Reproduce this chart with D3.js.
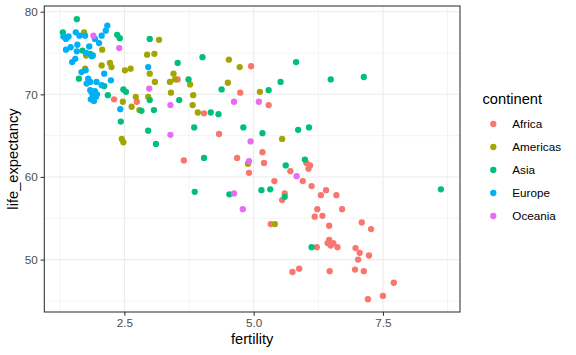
<!DOCTYPE html>
<html>
<head>
<meta charset="utf-8">
<script src="https://cdn.jsdelivr.net/npm/d3@7"></script>
<style>
  html, body { margin: 0; padding: 0; background: #fff; }
  svg { display: block; font-family: "Liberation Sans", Arial, Helvetica, sans-serif; }
</style>
</head>
<body>
<svg id="chart" width="576" height="355"></svg>
<script>
// ---- data: [fertility, life_expectancy] pairs ----
const continents = ["Africa", "Americas", "Asia", "Europe", "Oceania"];
const colors = ["#F8766D", "#A3A500", "#00BF7D", "#00B0F6", "#E76BF3"];

const africa = [
  [2.30,69.4],[2.74,69.1],[3.53,71.8],[4.95,73.4],[4.74,70.2],[5.29,68.7],[4.04,67.7],
  [4.33,65.2],[3.65,62.0],[4.68,62.3],[5.17,63.0],[5.20,61.7],[4.91,60.5],[6.02,61.7],
  [6.09,61.4],[6.06,61.0],[5.71,60.7],[5.40,59.5],[5.95,59.5],[6.12,58.9],[6.40,58.4],
  [6.30,57.8],[6.60,57.8],[5.60,58.0],[5.55,57.2],[6.23,56.1],[6.71,56.1],[6.18,55.2],
  [6.33,55.3],[5.33,54.3],[6.46,54.1],[7.09,54.5],[7.27,53.7],[6.46,52.4],[6.43,52.0],
  [6.54,52.0],[6.49,51.7],[6.62,51.5],[6.22,51.5],[6.97,51.4],[7.05,50.8],[7.23,50.5],
  [7.02,50.0],[5.75,48.5],[5.88,48.9],[6.47,48.6],[6.96,48.8],[7.13,48.6],[7.71,47.2],
  [7.50,45.6],[7.21,45.2]
];
const americas = [
  [1.72,77.5],[2.07,75.4],[1.76,74.7],[2.22,73.8],[2.25,73.3],[2.06,73.5],[1.74,73.1],
  [2.51,72.9],[2.62,73.1],[2.94,74.8],[3.08,74.9],[3.17,76.6],[2.99,72.5],[3.45,72.5],
  [3.09,71.5],[3.38,71.5],[3.48,71.8],[3.77,71.2],[3.40,70.2],[2.72,69.7],[2.47,69.1],
  [2.96,69.7],[3.83,69.9],[2.64,68.5],[2.79,68.1],[3.82,68.7],[3.92,67.8],[2.45,64.6],
  [2.48,64.2],[4.52,74.2],[4.73,73.3],[4.50,71.4],[5.12,70.3],[5.55,64.6],[4.89,61.6],
  [5.41,54.3]
];
const asia = [
  [1.58,79.1],[1.31,77.5],[2.36,77.2],[2.41,76.8],[1.69,75.3],[1.84,74.9],[1.62,71.9],
  [2.11,71.0],[2.18,69.9],[2.48,70.6],[2.53,70.3],[2.99,76.7],[3.53,73.8],[3.74,71.8],
  [2.99,69.3],[3.56,69.3],[2.83,68.0],[3.07,68.1],[4.01,74.5],[5.82,73.9],[5.52,71.5],
  [4.38,70.6],[5.29,70.5],[6.49,71.8],[7.13,72.1],[4.17,67.8],[4.32,67.6],[2.43,66.7],
  [2.96,65.6],[3.85,66.0],[3.11,64.0],[4.04,62.3],[3.86,58.2],[4.53,57.9],[4.80,66.0],
  [5.17,65.3],[5.86,65.7],[6.07,66.0],[5.62,61.4],[5.99,62.1],[5.15,58.4],[5.32,58.5],
  [5.60,57.6],[8.62,58.5],[6.12,51.5]
];
const europe = [
  [1.32,77.0],[1.37,76.7],[1.42,77.0],[1.56,77.5],[1.63,77.1],[1.74,77.1],[2.06,77.1],
  [2.14,77.7],[2.17,78.3],[1.93,76.7],[2.01,76.2],[1.59,76.0],[1.46,75.7],[1.37,75.4],
  [1.82,75.8],[1.58,75.2],[1.76,75.0],[1.89,74.7],[1.55,74.3],[1.49,73.9],[1.87,74.6],
  [1.75,72.9],[1.67,72.7],[2.11,72.5],[1.80,71.9],[1.84,71.5],[1.77,71.3],[1.96,71.5],
  [2.06,71.1],[2.24,71.7],[1.84,70.5],[1.87,70.2],[1.93,70.4],[1.89,69.8],[1.95,69.7],
  [1.85,69.4],[1.91,69.2],[1.97,70.0],[2.42,68.2],[2.96,73.3]
];
const oceania = [
  [1.90,77.1],[2.40,75.6],[2.98,70.7],[3.39,68.7],[3.39,65.1],[4.62,69.1],[5.10,69.1],
  [4.94,64.3],[4.91,61.9],[5.83,60.1],[4.62,58.0],[4.79,56.1]
];
const seriesData = [africa, americas, asia, europe, oceania];

const xTicks = [2.5, 5.0, 7.5];
const xTickLabels = ["2.5", "5.0", "7.5"];
const xMinor = [1.25, 3.75, 6.25, 8.75];
const yTicks = [50, 60, 70, 80];
const yMinor = [45, 55, 65, 75];

// ---- layout ----
const svg = d3.select("#chart");
const panel = { left: 44.3, right: 460, top: 6, bottom: 312 };

const x = d3.scaleLinear().domain([0.951, 8.99]).range([panel.left, panel.right]);
const y = d3.scaleLinear().domain([43.66, 80.69]).range([panel.bottom, panel.top]);

svg.append("rect").attr("width", 576).attr("height", 355).attr("fill", "#fff");

const g = svg.append("g");
// minor grid
g.selectAll(".xminor").data(xMinor).join("line")
  .attr("x1", d => x(d)).attr("x2", d => x(d))
  .attr("y1", panel.top).attr("y2", panel.bottom)
  .attr("stroke", "#ebebeb").attr("stroke-width", 0.53);
g.selectAll(".yminor").data(yMinor.filter(v => y(v) < panel.bottom)).join("line")
  .attr("y1", d => y(d)).attr("y2", d => y(d))
  .attr("x1", panel.left).attr("x2", panel.right)
  .attr("stroke", "#ebebeb").attr("stroke-width", 0.53);
// major grid
g.selectAll(".xmajor").data(xTicks).join("line")
  .attr("x1", d => x(d)).attr("x2", d => x(d))
  .attr("y1", panel.top).attr("y2", panel.bottom)
  .attr("stroke", "#ebebeb").attr("stroke-width", 1.07);
g.selectAll(".ymajor").data(yTicks).join("line")
  .attr("y1", d => y(d)).attr("y2", d => y(d))
  .attr("x1", panel.left).attr("x2", panel.right)
  .attr("stroke", "#ebebeb").attr("stroke-width", 1.07);

// points
seriesData.forEach((pts, i) => {
  svg.append("g").selectAll("circle").data(pts).join("circle")
    .attr("cx", d => x(d[0])).attr("cy", d => y(d[1]))
    .attr("r", 3.15).attr("fill", colors[i]);
});

// panel border
svg.append("rect")
  .attr("x", panel.left).attr("y", panel.top)
  .attr("width", panel.right - panel.left).attr("height", panel.bottom - panel.top)
  .attr("fill", "none").attr("stroke", "#333333").attr("stroke-width", 1.07);

// axes
const xAxis = d3.axisBottom(x).tickValues(xTicks).tickFormat((d, i) => xTickLabels[i])
  .tickSize(3.67).tickPadding(2.9);
const xa = svg.append("g").attr("transform", `translate(0,${panel.bottom})`).call(xAxis);
xa.select(".domain").remove();
xa.selectAll(".tick line").attr("stroke", "#333333").attr("stroke-width", 1.07);
xa.selectAll(".tick text").attr("fill", "#4d4d4d").style("font-size", "11.7px")
  .style("font-family", "Liberation Sans, Arial, sans-serif");

const yAxis = d3.axisLeft(y).tickValues(yTicks).tickFormat(d3.format("d"))
  .tickSize(3.67).tickPadding(2.9);
const ya = svg.append("g").attr("transform", `translate(${panel.left},0)`).call(yAxis);
ya.select(".domain").remove();
ya.selectAll(".tick line").attr("stroke", "#333333").attr("stroke-width", 1.07);
ya.selectAll(".tick text").attr("fill", "#4d4d4d").style("font-size", "11.7px")
  .style("font-family", "Liberation Sans, Arial, sans-serif");

// axis titles
svg.append("text").attr("x", (panel.left + panel.right) / 2).attr("y", 344)
  .attr("text-anchor", "middle").attr("fill", "#000").style("font-size", "14.7px")
  .text("fertility");
svg.append("text")
  .attr("transform", `translate(18,${(panel.top + panel.bottom) / 2}) rotate(-90)`)
  .attr("text-anchor", "middle").attr("fill", "#000").style("font-size", "14.7px")
  .text("life_expectancy");

// legend
const lg = svg.append("g");
lg.append("text").attr("x", 482.5).attr("y", 104).attr("fill", "#000")
  .style("font-size", "14.7px").text("continent");
continents.forEach((c, i) => {
  const cy = 124 + i * 23;
  lg.append("circle").attr("cx", 493.3).attr("cy", cy).attr("r", 3.15).attr("fill", colors[i]);
  lg.append("text").attr("x", 512.3).attr("y", cy + 4.1).attr("fill", "#000")
    .style("font-size", "11.7px").text(c);
});
</script>
</body>
</html>
